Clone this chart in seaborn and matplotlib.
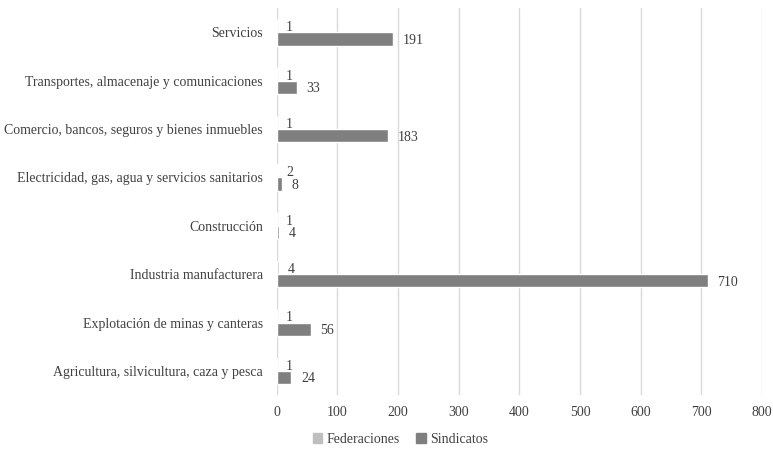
import matplotlib
matplotlib.use("Agg")
import matplotlib.pyplot as plt
import seaborn as sns
import pandas as pd

sectores = [
    "Servicios",
    "Transportes, almacenaje y comunicaciones",
    "Comercio, bancos, seguros y bienes inmuebles",
    "Electricidad, gas, agua y servicios sanitarios",
    "Construcción",
    "Industria manufacturera",
    "Explotación de minas y canteras",
    "Agricultura, silvicultura, caza y pesca",
]
federaciones = [1, 1, 1, 2, 1, 4, 1, 1]
sindicatos = [191, 33, 183, 8, 4, 710, 56, 24]

df = pd.DataFrame({
    "Sector": sectores * 2,
    "Valor": federaciones + sindicatos,
    "Tipo": ["Federaciones"] * len(sectores) + ["Sindicatos"] * len(sectores),
})

sns.set_style("white")
plt.rcParams["font.family"] = ["Liberation Serif", "DejaVu Serif"]

fig = plt.figure(figsize=(7.73, 4.49), dpi=100)
ax = fig.add_axes([0.358, 0.12, 0.628, 0.862])

colores = {"Federaciones": "#bfbfbf", "Sindicatos": "#7f7f7f"}
sns.barplot(data=df, x="Valor", y="Sector", hue="Tipo", order=sectores,
            hue_order=["Federaciones", "Sindicatos"], palette=colores,
            orient="h", width=0.55, ax=ax, legend=False)

ax.set_xlim(0, 800)
ax.set_xticks(range(0, 801, 100))
ax.grid(axis="x", color="#d9d9d9", linewidth=1)
ax.set_axisbelow(True)
for s in ax.spines.values():
    s.set_visible(False)
ax.set_xlabel("")
ax.set_ylabel("")
ax.tick_params(axis="both", length=0, labelsize=10, colors="#404040")
ax.tick_params(axis="x", pad=8)
ax.tick_params(axis="y", pad=10)

for cont, name in zip(ax.containers, ["Federaciones", "Sindicatos"]):
    for bar in cont:
        w = bar.get_width()
        yc = bar.get_y() + bar.get_height() / 2
        if name == "Federaciones":
            ax.annotate(f"{int(w)}", (w, yc), xytext=(6, -1.5), textcoords="offset points",
                        ha="left", va="center", fontsize=10, color="#404040")
        else:
            ax.annotate(f"{int(w)}", (w, yc), xytext=(7, -1), textcoords="offset points",
                        ha="left", va="center", fontsize=10, color="#404040")

handles = [plt.Rectangle((0, 0), 1, 1, color=colores[k]) for k in ["Federaciones", "Sindicatos"]]
fig.legend(handles, ["Federaciones", "Sindicatos"], loc="center", bbox_to_anchor=(0.518, 0.022),
           ncol=2, frameon=False, fontsize=10, handlelength=0.7, handleheight=0.7,
           handletextpad=0.3, columnspacing=1.2, labelcolor="#404040")

fig.savefig("out.png", dpi=100)
